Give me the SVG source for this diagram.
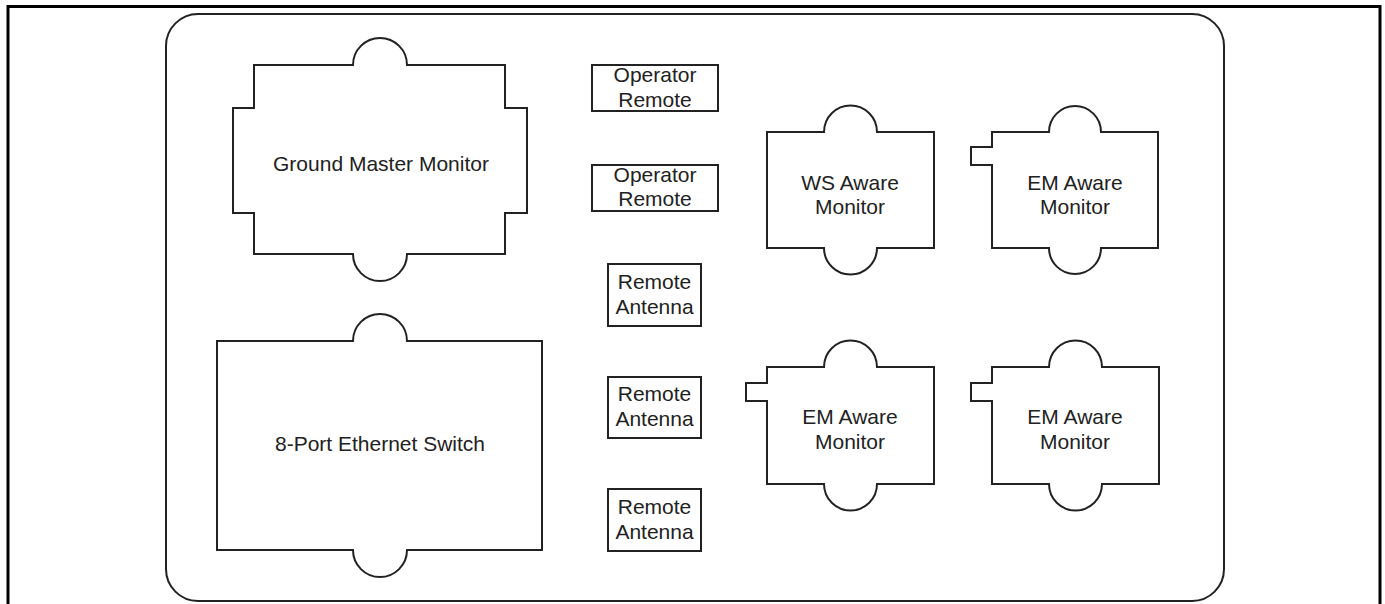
<svg xmlns="http://www.w3.org/2000/svg" width="1385" height="604" viewBox="0 0 1385 604">
<style>
.frame{fill:none;stroke:#000;stroke-width:3}
.panel{fill:#fff;stroke:#222;stroke-width:2}
.node{fill:#fff;stroke:#222;stroke-width:2;stroke-linejoin:miter}
.lbl{font-family:"Liberation Sans",Arial,sans-serif;font-size:21px;fill:#222;text-anchor:middle}
</style>
<rect width="1385" height="604" fill="#fff"/>
<rect class="frame" x="8" y="6.5" width="1372" height="640"/>
<rect class="panel" x="166" y="14" width="1058" height="587" rx="32" ry="32"/>
<g id="ground-master-monitor">
<path class="node" d="M254,65 H353 A27,27 0 0 1 407,65 H505 V108 H527 V213 H505 V254 H407 A27,27 0 0 1 353,254 H254 V213 H233 V108 H254 Z"/>
<text class="lbl" x="381" y="171">Ground Master Monitor</text>
</g>
<g id="ethernet-switch">
<path class="node" d="M217,341 H353 A27,27 0 0 1 407,341 H542 V550 H407 A27,27 0 0 1 353,550 H217 Z"/>
<text class="lbl" x="380" y="451">8-Port Ethernet Switch</text>
</g>
<g id="operator-remote-1">
<rect class="node" x="592" y="65" width="126" height="46"/>
<text class="lbl" x="655" y="82">Operator</text>
<text class="lbl" x="655" y="107">Remote</text>
</g>
<g id="operator-remote-2">
<rect class="node" x="592" y="165" width="126" height="46"/>
<text class="lbl" x="655" y="182">Operator</text>
<text class="lbl" x="655" y="206">Remote</text>
</g>
<g id="remote-antenna-1">
<rect class="node" x="608" y="264" width="93" height="62"/>
<text class="lbl" x="654.5" y="289">Remote</text>
<text class="lbl" x="654.5" y="314">Antenna</text>
</g>
<g id="remote-antenna-2">
<rect class="node" x="608" y="377" width="93" height="61"/>
<text class="lbl" x="654.5" y="401">Remote</text>
<text class="lbl" x="654.5" y="426">Antenna</text>
</g>
<g id="remote-antenna-3">
<rect class="node" x="608" y="489" width="93" height="62"/>
<text class="lbl" x="654.5" y="514">Remote</text>
<text class="lbl" x="654.5" y="539">Antenna</text>
</g>
<g id="ws-aware-monitor">
<path class="node" d="M767,132 H824 A26.5,26.5 0 0 1 877,132 H934 V248 H877 A26.5,26.5 0 0 1 824,248 H767 Z"/>
<text class="lbl" x="850" y="190">WS Aware</text>
<text class="lbl" x="850" y="214">Monitor</text>
</g>
<g id="em-aware-monitor-1">
<path class="node" d="M992,132 H1049 A26,26 0 0 1 1101,132 H1158 V248 H1101 A26,26 0 0 1 1049,248 H992 V165 H971 V147 H992 Z"/>
<text class="lbl" x="1075" y="190">EM Aware</text>
<text class="lbl" x="1075" y="214">Monitor</text>
</g>
<g id="em-aware-monitor-2">
<path class="node" d="M767,367 H824 A26.5,26.5 0 0 1 877,367 H934 V484 H877 A26.5,26.5 0 0 1 824,484 H767 V401 H746 V383 H767 Z"/>
<text class="lbl" x="850" y="424">EM Aware</text>
<text class="lbl" x="850" y="449">Monitor</text>
</g>
<g id="em-aware-monitor-3">
<path class="node" d="M992,367 H1049 A26.5,26.5 0 0 1 1102,367 H1159 V484 H1102 A26.5,26.5 0 0 1 1049,484 H992 V401 H971 V383 H992 Z"/>
<text class="lbl" x="1075" y="424">EM Aware</text>
<text class="lbl" x="1075" y="449">Monitor</text>
</g>
<g id="connectors"></g>
</svg>
